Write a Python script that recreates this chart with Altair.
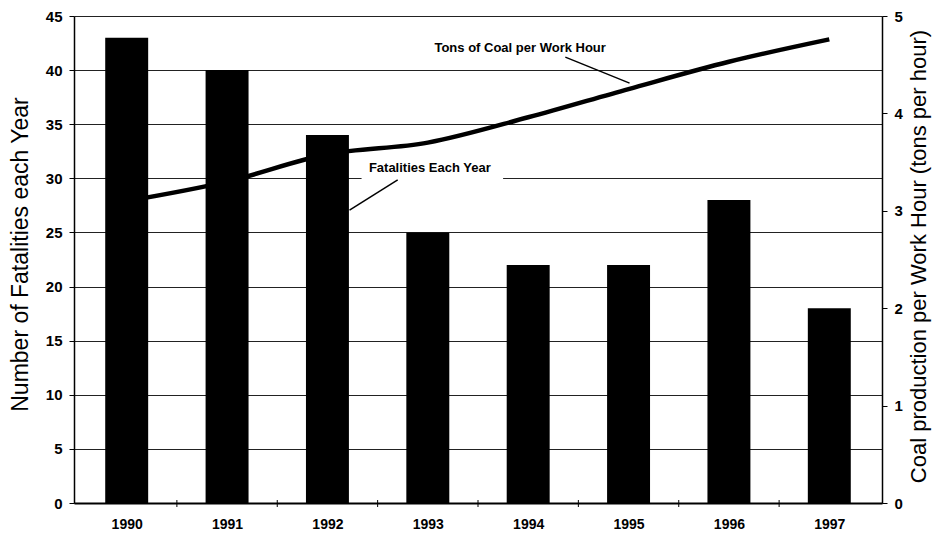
import altair as alt
import pandas as pd

# ---- data ----
years = [1990, 1991, 1992, 1993, 1994, 1995, 1996, 1997]
fatalities = [43, 40, 34, 25, 22, 22, 28, 18]
tons_per_hour = [3.10, 3.30, 3.58, 3.70, 3.96, 4.25, 4.53, 4.76]

# category boundaries on the x axis (small tick marks between years)
x_boundaries = [1990.5, 1991.5, 1992.5, 1993.5, 1994.5, 1995.5, 1996.5]

ann_labels = ["Tons of Coal per Work Hour", "Fatalities Each Year"]
ann_x = [1993.92, 1993.02]
ann_y = [42.0, 30.96]
ptr_x = [1994.37, 1992.70]
ptr_y = [41.2, 29.85]
ptr_x2 = [1995.01, 1992.22]
ptr_y2 = [38.8, 27.07]
box_x = [1992.34]
box_x2 = [1993.75]
box_y = [29.75]
box_y2 = [31.8]

FONT = "Liberation Sans"
X_DOMAIN = [1989.475, 1997.525]
HALF_BAR = 0.214

df = pd.DataFrame({"year": years, "fatalities": fatalities, "tons": tons_per_hour})
ann = pd.DataFrame({"label": ann_labels, "x": ann_x, "y": ann_y})
ptr = pd.DataFrame({"x": ptr_x, "y": ptr_y, "x2": ptr_x2, "y2": ptr_y2})
box = pd.DataFrame({"x": box_x, "x2": box_x2, "y": box_y, "y2": box_y2})
bnd = pd.DataFrame({"b": x_boundaries})

xscale = alt.Scale(domain=X_DOMAIN, nice=False, zero=False)
yleft = alt.Scale(domain=[0, 45], nice=False, zero=True)
yright = alt.Scale(domain=[0, 5], nice=False, zero=True)

x_axis = alt.Axis(values=years, format="d", title=None, grid=False, ticks=False,
                  labelFont=FONT, labelFontSize=14, labelFontWeight="bold",
                  labelColor="black", labelPadding=14, domainColor="black",
                  domainWidth=2, labelFlush=False)

left_axis = alt.Axis(values=list(range(0, 46, 5)), orient="left",
                     title="Number of Fatalities each Year",
                     titleFont=FONT, titleFontSize=23, titleFontWeight="normal",
                     titleColor="black", titleAngle=270, titleAlign="center",
                     titleBaseline="alphabetic", titleX=-47, titleY=238,
                     labelFont=FONT, labelFontSize=15, labelFontWeight="bold",
                     labelColor="black", labelPadding=7, tickSize=5,
                     tickColor="black", domainColor="black", domainWidth=1.5,
                     grid=True, gridColor="#222222", gridWidth=1)

right_axis = alt.Axis(values=[0, 1, 2, 3, 4, 5], orient="right",
                      title="Coal production per Work Hour (tons per hour)",
                      titleFont=FONT, titleFontSize=22, titleFontWeight="normal",
                      titleColor="black", titleAngle=270, titleAlign="center",
                      titleBaseline="alphabetic", titleX=43, titleY=240,
                      labelFont=FONT, labelFontSize=15, labelFontWeight="bold",
                      labelColor="black", labelPadding=7, tickSize=5,
                      tickColor="black", domainColor="black", domainWidth=1.5,
                      grid=False)

X = lambda f: alt.X(f, scale=xscale, axis=x_axis)
YL = lambda f: alt.Y(f, scale=yleft, axis=left_axis)

line = alt.Chart(df).mark_line(color="black", strokeWidth=4.5,
                               interpolate="monotone").encode(
    x=X("year:Q"),
    y=alt.Y("tons:Q", scale=yright, axis=right_axis),
)

bars = alt.Chart(df).transform_calculate(
    x0=f"datum.year - {HALF_BAR}", x1=f"datum.year + {HALF_BAR}"
).mark_rect(color="black").encode(
    x=X("x0:Q"),
    x2="x1:Q",
    y=YL("fatalities:Q"),
    y2=alt.datum(0),
)

box_layer = alt.Chart(box).mark_rect(color="white").encode(
    x=X("x:Q"), x2="x2:Q", y=YL("y:Q"), y2="y2:Q",
)

pointers = alt.Chart(ptr).mark_rule(color="black", strokeWidth=1.5).encode(
    x=X("x:Q"), x2="x2:Q", y=YL("y:Q"), y2="y2:Q",
)

texts = alt.Chart(ann).mark_text(font=FONT, fontSize=13, fontWeight="bold",
                                 color="black", align="center",
                                 baseline="middle").encode(
    x=X("x:Q"), y=YL("y:Q"), text="label:N",
)

bticks = alt.Chart(bnd).mark_rule(color="black", strokeWidth=1).encode(
    x=X("b:Q"), y=alt.value(484), y2=alt.value(491),
)

left_group = alt.layer(box_layer, bars, pointers, texts, bticks)

chart = alt.layer(line, left_group).resolve_scale(y="independent").properties(
    width=808, height=487,
    autosize=alt.AutoSizeParams(type="none"),
    padding={"left": 66, "top": 8, "right": 50, "bottom": 29},
).configure_view(stroke="black", strokeWidth=1.5).configure(background="white")

chart.save("out.html", embed_options={"renderer": "svg", "actions": False})
